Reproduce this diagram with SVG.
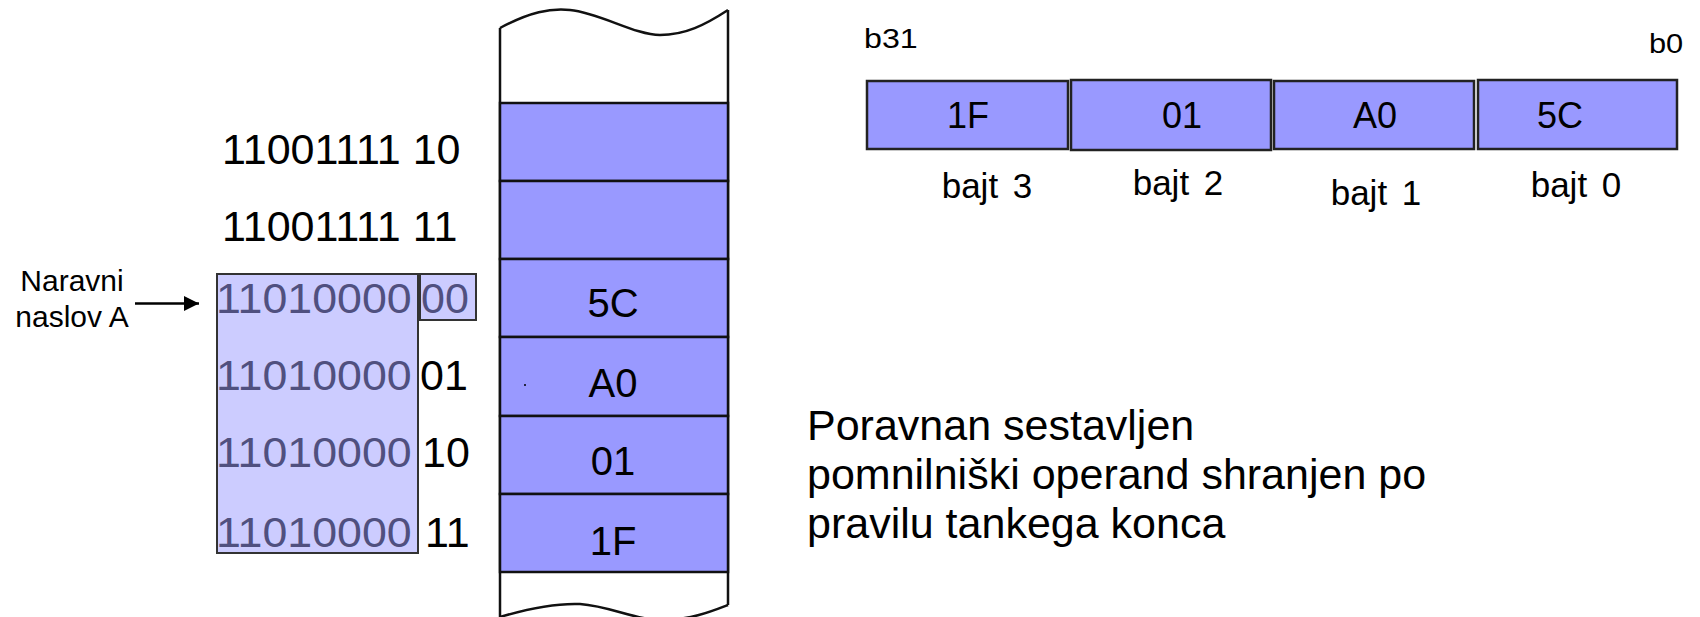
<svg xmlns="http://www.w3.org/2000/svg" width="1700" height="617" viewBox="0 0 1700 617">
<defs>
<style>
text{font-family:"Liberation Sans",Arial,sans-serif;fill:#000}
.cell{fill:#9999ff;stroke:#111;stroke-width:2.5}
.reg{fill:#9999ff;stroke:#222;stroke-width:2.5}
.edge{fill:none;stroke:#111;stroke-width:2.5}
.addr{font-size:42px}
.sel{font-size:42px;fill:#50507f}
.suf{font-size:43px}
.val{font-size:40px;text-anchor:middle}
.rv{font-size:36px;text-anchor:middle}
.bj{font-size:35px;word-spacing:5px;text-anchor:middle}
.bit{font-size:28px}
.lbl{font-size:30px;text-anchor:middle}
.note{font-size:43px}
</style>
<marker id="ah" markerWidth="16" markerHeight="16" refX="15" refY="7.5" orient="auto" markerUnits="userSpaceOnUse">
<path d="M0,0 L15,7.5 L0,15 Z" fill="#000"/>
</marker>
</defs>
<rect width="1700" height="617" fill="#fff"/>

<g id="memory">
<path class="edge" d="M500,28 C530,12 550,8 570,10 C600,13 635,35 660,35 C685,35 705,25 728,10"/>
<path class="edge" d="M500,617 C530,608 555,603 580,604 C610,606 635,620 660,620 C690,620 710,612 728,605"/>
<line class="edge" x1="500" y1="28" x2="500" y2="617"/>
<line class="edge" x1="728" y1="10" x2="728" y2="605"/>
</g>
<g id="cell-cf10"><rect class="cell" x="500" y="103" width="228" height="78"/></g>
<g id="cell-cf11"><rect class="cell" x="500" y="181" width="228" height="78"/></g>
<g id="cell-d000"><rect class="cell" x="500" y="259" width="228" height="78"/><text class="val" x="613" y="317">5C</text></g>
<g id="cell-d001"><rect class="cell" x="500" y="337" width="228" height="79"/><text class="val" x="613" y="397">A0</text><circle cx="525" cy="385" r="1" fill="#000"/></g>
<g id="cell-d010"><rect class="cell" x="500" y="416" width="228" height="78"/><text class="val" x="613" y="475">01</text></g>
<g id="cell-d011"><rect class="cell" x="500" y="494" width="228" height="78"/><text class="val" x="613" y="555">1F</text></g>

<g id="addr-upper">
<text class="addr" transform="translate(222,164) scale(1.025,1)">11001111 10</text>
<text class="addr" transform="translate(222,241) scale(1.025,1)">11001111 11</text>
</g>

<g id="addr-block">
<rect x="217" y="274" width="201" height="279" fill="#ccccff" stroke="#333" stroke-width="2"/>
<rect x="420" y="274" width="56" height="46" fill="#ccccff" stroke="#333" stroke-width="2"/>
<text class="sel" transform="translate(216,313) scale(1.065,1)">11010000</text>
<text class="sel" transform="translate(216,390) scale(1.065,1)">11010000</text>
<text class="sel" transform="translate(216,467) scale(1.065,1)">11010000</text>
<text class="sel" transform="translate(216,547) scale(1.065,1)">11010000</text>
<text class="sel" x="421" y="313" style="font-size:43px">00</text>
<text class="suf" x="420" y="390">01</text>
<text class="suf" x="422" y="467">10</text>
<text class="suf" x="425" y="547">11</text>
</g>

<g id="label-naravni">
<text class="lbl" x="72" y="291">Naravni</text>
<text class="lbl" x="72" y="327">naslov A</text>
</g>

<g id="connectors">
<line x1="135" y1="303.5" x2="199" y2="303.5" stroke="#000" stroke-width="2.5" marker-end="url(#ah)"/>
</g>

<g id="register">
<text class="bit" transform="translate(864,48) scale(1.15,1)">b31</text>
<text class="bit" transform="translate(1649,52.5) scale(1.1,1)">b0</text>
</g>
<g id="byte3"><rect class="reg" x="867" y="81" width="201" height="68"/><text class="rv" x="968" y="128">1F</text><text class="bj" x="987" y="198">bajt 3</text></g>
<g id="byte2"><rect class="reg" x="1071" y="80" width="200" height="70"/><text class="rv" x="1182" y="128">01</text><text class="bj" x="1178" y="195">bajt 2</text></g>
<g id="byte1"><rect class="reg" x="1274" y="81" width="200" height="68"/><text class="rv" x="1375" y="128">A0</text><text class="bj" x="1376" y="205">bajt 1</text></g>
<g id="byte0"><rect class="reg" x="1478" y="80" width="199" height="69"/><text class="rv" x="1560" y="128">5C</text><text class="bj" x="1576" y="197">bajt 0</text></g>

<g id="note">
<text class="note" x="807" y="440">Poravnan sestavljen</text>
<text class="note" x="807" y="489">pomnilniški operand shranjen po</text>
<text class="note" x="807" y="538">pravilu tankega konca</text>
</g>
</svg>
